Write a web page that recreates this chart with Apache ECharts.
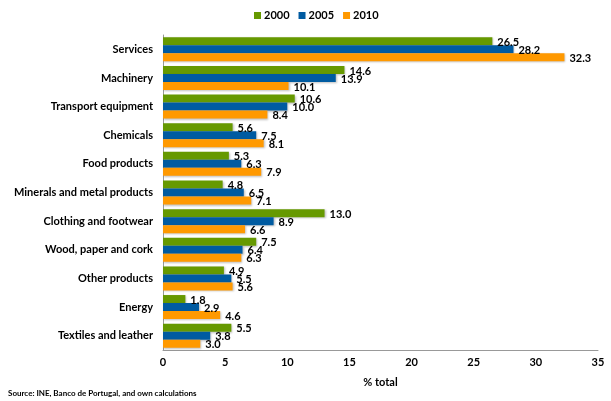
<!DOCTYPE html>
<html><head><meta charset="utf-8">
<script src="https://cdn.jsdelivr.net/npm/echarts@6/dist/echarts.min.js"></script>
<style>html,body{margin:0;padding:0;background:#fff}#c{width:611px;height:401px}</style>
</head><body><div id="c"></div>
<script>
const categories = ["Services","Machinery","Transport equipment","Chemicals","Food products","Minerals and metal products","Clothing and footwear","Wood, paper and cork","Other products","Energy","Textiles and leather"];
const s2000 = [26.5,14.6,10.6,5.6,5.3,4.8,13.0,7.5,4.9,1.8,5.5];
const s2005 = [28.2,13.9,10.0,7.5,6.3,6.5,8.9,6.4,5.5,2.9,3.8];
const s2010 = [32.3,10.1,8.4,8.1,7.9,7.1,6.6,6.3,5.6,4.6,3.0];
const seriesNames = ["2000","2005","2010"];
const colors = ["#669900","#005BA1","#FF9900"];
const FONT = "Lato";
const TXT = '#000';
const chart = echarts.init(document.getElementById('c'), null, {renderer:'canvas'});
const mk = (name, data, i) => ({
  name, type:'bar', data, barWidth:8, barGap:'0%',
  itemStyle:{color:colors[i], shadowColor:'rgba(0,0,0,0.25)', shadowBlur:2, shadowOffsetX:1, shadowOffsetY:1},
  label:{show:true, position:'right', distance:5, offset:[0,1], formatter:p=>p.value.toFixed(1),
    fontFamily:FONT, fontWeight:'bold', fontSize:11, color:TXT}
});
chart.setOption({
  animation:false,
  color:colors,
  textStyle:{fontFamily:FONT},
  legend:{top:5, left:249, itemWidth:7, itemHeight:7, itemGap:9, icon:'rect',
    textStyle:{fontFamily:FONT, fontWeight:'bold', fontSize:11, color:TXT, padding:[0,0,0,-2]}, data:seriesNames},
  grid:{left:163, right:13, top:35, bottom:51, containLabel:false},
  xAxis:{type:'value', min:0, max:35, interval:5,
    name:'% total', nameLocation:'middle', nameGap:27,
    nameTextStyle:{fontFamily:FONT, fontWeight:'bold', fontSize:11, color:TXT},
    axisLine:{show:true, lineStyle:{color:'#999'}}, axisTick:{show:false}, splitLine:{show:false},
    axisLabel:{margin:7, fontFamily:FONT, fontWeight:'bold', fontSize:11, color:TXT}},
  yAxis:{type:'category', data:categories, inverse:true,
    axisLine:{show:true, lineStyle:{color:'#999'}}, axisTick:{show:false},
    axisLabel:{margin:10, fontFamily:FONT, fontWeight:'bold', fontSize:11, color:TXT}},
  graphic:[{type:'text', left:8, top:389, style:{text:'Source: INE, Banco de Portugal, and own calculations',
    font:'bold 8px Lato', fill:TXT}}],
  series:[mk(seriesNames[0], s2000, 0), mk(seriesNames[1], s2005, 1), mk(seriesNames[2], s2010, 2)]
});
</script></body></html>
